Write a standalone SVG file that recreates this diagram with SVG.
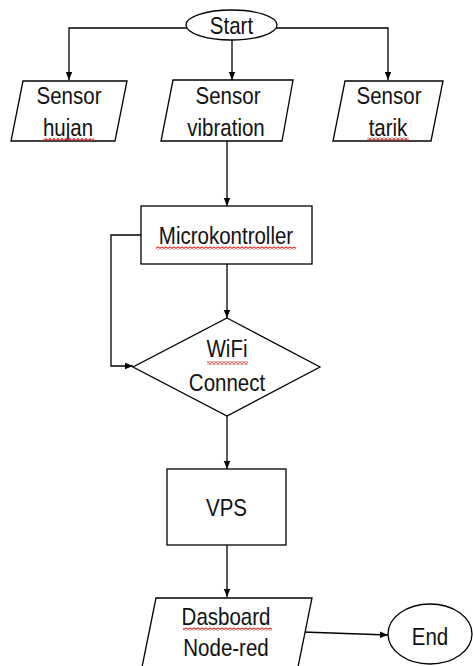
<svg xmlns="http://www.w3.org/2000/svg" width="473" height="666" viewBox="0 0 473 666">
<style>
.s{fill:#fff;stroke:#000;stroke-width:1.3}
.c{fill:none;stroke:#000;stroke-width:1.3}
.t{font-family:"Liberation Sans",Arial,sans-serif;font-size:20.5px;fill:#111;text-anchor:middle}
.sq{fill:url(#wavy)}
</style>
<defs>
<marker id="ah" viewBox="0 0 8 8" refX="8" refY="4" markerWidth="8" markerHeight="8" markerUnits="userSpaceOnUse" orient="auto">
<path d="M0,0.8 L8,4 L0,7.2 z" fill="#000"/>
</marker>
<pattern id="wavy" width="4" height="3" patternUnits="userSpaceOnUse">
<path d="M0,2.5 L2,0.5 L4,2.5" fill="none" stroke="#e0302f" stroke-width="1.1"/>
</pattern>
</defs>
<rect width="473" height="666" fill="#fff"/>
<g id="connectors">
<path class="c" d="M187,28 H69 V80" marker-end="url(#ah)"/>
<path class="c" d="M276,28 H388 V80" marker-end="url(#ah)"/>
<path class="c" d="M232,40 V80" marker-end="url(#ah)"/>
<path class="c" d="M227,141 V206" marker-end="url(#ah)"/>
<path class="c" d="M227,264 V318" marker-end="url(#ah)"/>
<path class="c" d="M141,235 H111 V366 H133" marker-end="url(#ah)"/>
<path class="c" d="M227,416 V469" marker-end="url(#ah)"/>
<path class="c" d="M227,545 V597" marker-end="url(#ah)"/>
<path class="c" d="M303,632 L388,635" marker-end="url(#ah)"/>
</g>
<g id="start">
<ellipse class="s" cx="231.5" cy="25" rx="45.5" ry="15"/>
<text class="t" transform="translate(231.5,34) scale(1,1.15)">Start</text>
</g>
<g id="sensor-hujan">
<polygon class="s" points="23,81 127,81 115,141 11,141"/>
<text class="t" transform="translate(69,104) scale(1,1.15)">Sensor</text>
<text class="t" transform="translate(68,136) scale(1,1.15)">hujan</text>
<rect class="sq" x="43" y="138" width="51" height="3"/>
</g>
<g id="sensor-vibration">
<polygon class="s" points="173,80 293,80 282,141 161,141"/>
<text class="t" transform="translate(228,104) scale(1,1.15)">Sensor</text>
<text class="t" transform="translate(226,136) scale(1,1.15)">vibration</text>
</g>
<g id="sensor-tarik">
<polygon class="s" points="345,81 443,81 431,141 333,141"/>
<text class="t" transform="translate(389,104) scale(1,1.15)">Sensor</text>
<text class="t" transform="translate(388,136) scale(1,1.15)">tarik</text>
<rect class="sq" x="367" y="137.5" width="42" height="3"/>
</g>
<g id="microkontroller">
<rect class="s" x="141" y="206" width="171" height="58"/>
<text class="t" transform="translate(226,244) scale(1,1.15)">Microkontroller</text>
<rect class="sq" x="156" y="246.5" width="140" height="3"/>
</g>
<g id="wifi-connect">
<polygon class="s" points="227,318 320,367 227,416 133,367"/>
<text class="t" transform="translate(227,357) scale(1,1.15)">WiFi</text>
<text class="t" transform="translate(227,391) scale(1,1.15)">Connect</text>
<rect class="sq" x="207" y="361.5" width="41" height="3"/>
</g>
<g id="vps">
<rect class="s" x="167" y="469" width="119" height="76"/>
<text class="t" transform="translate(226.5,516) scale(1,1.15)">VPS</text>
</g>
<g id="dashboard">
<polygon class="s" points="156,598 312,598 297,672 141,672"/>
<text class="t" transform="translate(226,625) scale(1,1.15)">Dasboard</text>
<text class="t" transform="translate(226,656) scale(1,1.15)">Node-red</text>
<rect class="sq" x="183" y="627.5" width="89" height="3"/>
</g>
<g id="end">
<ellipse class="s" cx="430" cy="634" rx="42" ry="30"/>
<text class="t" transform="translate(430,645) scale(1,1.15)">End</text>
</g>
</svg>
